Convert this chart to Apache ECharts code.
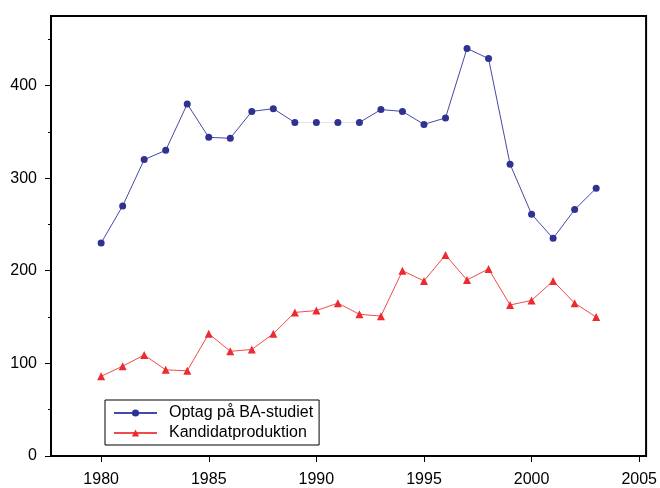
<!DOCTYPE html>
<html>
<head>
<meta charset="utf-8">
<script src="https://cdn.jsdelivr.net/npm/echarts@6/dist/echarts.min.js"></script>
<style>
  html, body { margin: 0; padding: 0; background: #fff; }
  #main { width: 660px; height: 488px; }
</style>
</head>
<body>
<div id="main"></div>
<script>
// data
var years = [1980, 1981, 1982, 1983, 1984, 1985, 1986, 1987, 1988, 1989, 1990, 1991,
             1992, 1993, 1994, 1995, 1996, 1997, 1998, 1999, 2000, 2001, 2002, 2003];
var optag = [230, 270, 320, 330, 380, 344, 343, 372, 375, 360, 360, 360,
             360, 374, 372, 358, 365, 440, 429, 315, 261, 235, 266, 289];
var kandidat = [86, 97, 109, 93, 92, 132, 113, 115, 132, 155, 157, 165,
                153, 151, 200, 189, 217, 190, 202, 163, 168, 189, 165, 150];
var xTicks = [1980, 1985, 1990, 1995, 2000, 2005];
var yTicks = [0, 100, 200, 300, 400];
var yMinor = [50, 150, 250, 350, 450];
var names = ['Optag på BA-studiet', 'Kandidatproduktion'];
var gapFrom = 1989, gapTo = 1992;

var myChart = echarts.init(document.getElementById('main'));

var font = 'Liberation Sans';
var blue = '#2f3291';
var red = '#ec2a30';

// blue line with the 1989-1992 stretch left out
var optagLine = years.map(function (y, i) {
    return (y > gapFrom && y < gapTo) ? [y, null] : [y, optag[i]];
});
var optagGapPts = [];
var optagGapLine = [];
years.forEach(function (y, i) {
    if (y > gapFrom && y < gapTo) optagGapPts.push([y, optag[i]]);
    if (y >= gapFrom && y <= gapTo) optagGapLine.push([y, optag[i]]);
});

var option = {
    animation: false,
    textStyle: { fontFamily: font },
    grid: {
        left: 51, right: 9, top: 16, bottom: 31,
        show: true, borderColor: '#000', borderWidth: 2
    },
    xAxis: {
        type: 'value', min: 1977.67, max: 2005.32,
        axisLine: { lineStyle: { color: '#000', width: 2 } },
        axisTick: { customValues: xTicks, length: 6, lineStyle: { color: '#000' } },
        axisLabel: {
            customValues: xTicks, color: '#000', fontSize: 16, margin: 16,
            formatter: function (v) { return String(v); }
        },
        splitLine: { show: false }
    },
    yAxis: [{
        type: 'value', min: 0, max: 475,
        axisLine: { show: true, lineStyle: { color: '#000', width: 2 } },
        axisTick: { customValues: yTicks, length: 6, lineStyle: { color: '#000' } },
        axisLabel: { customValues: yTicks, color: '#000', fontSize: 16, margin: 14 },
        splitLine: { show: false }
    }, {
        type: 'value', min: 0, max: 475, position: 'left',
        axisLine: { show: false },
        axisTick: { show: true, customValues: yMinor, length: 3, lineStyle: { color: '#000' } },
        axisLabel: { show: false },
        splitLine: { show: false }
    }],
    legend: {
        data: names,
        orient: 'vertical',
        left: 105, top: 400,
        padding: [5, 6, 4, 8],
        itemWidth: 43, itemHeight: 9, itemGap: 4,
        backgroundColor: '#fff',
        borderColor: '#000', borderWidth: 1, borderRadius: 0,
        textStyle: { fontFamily: font, fontSize: 16, color: '#000', padding: [0, 0, 0, 7] }
    },
    series: [
        {
            name: 'gap', type: 'line', data: optagGapLine, symbol: 'none',
            lineStyle: { color: '#e4e4e8', width: 1 }, z: 1
        },
        {
            name: names[0], type: 'line', data: optagLine,
            symbol: 'circle', symbolSize: 7,
            itemStyle: { color: blue },
            lineStyle: { color: '#4548a8', width: 1 }
        },
        {
            name: 'gapPts', type: 'scatter', data: optagGapPts,
            symbol: 'circle', symbolSize: 7,
            itemStyle: { color: blue, opacity: 1 }
        },
        {
            name: names[1], type: 'line',
            data: years.map(function (y, i) { return [y, kandidat[i]]; }),
            symbol: 'triangle', symbolSize: 8,
            itemStyle: { color: red },
            lineStyle: { color: '#f24a4a', width: 1 }
        }
    ]
};

myChart.setOption(option);
</script>
</body>
</html>
